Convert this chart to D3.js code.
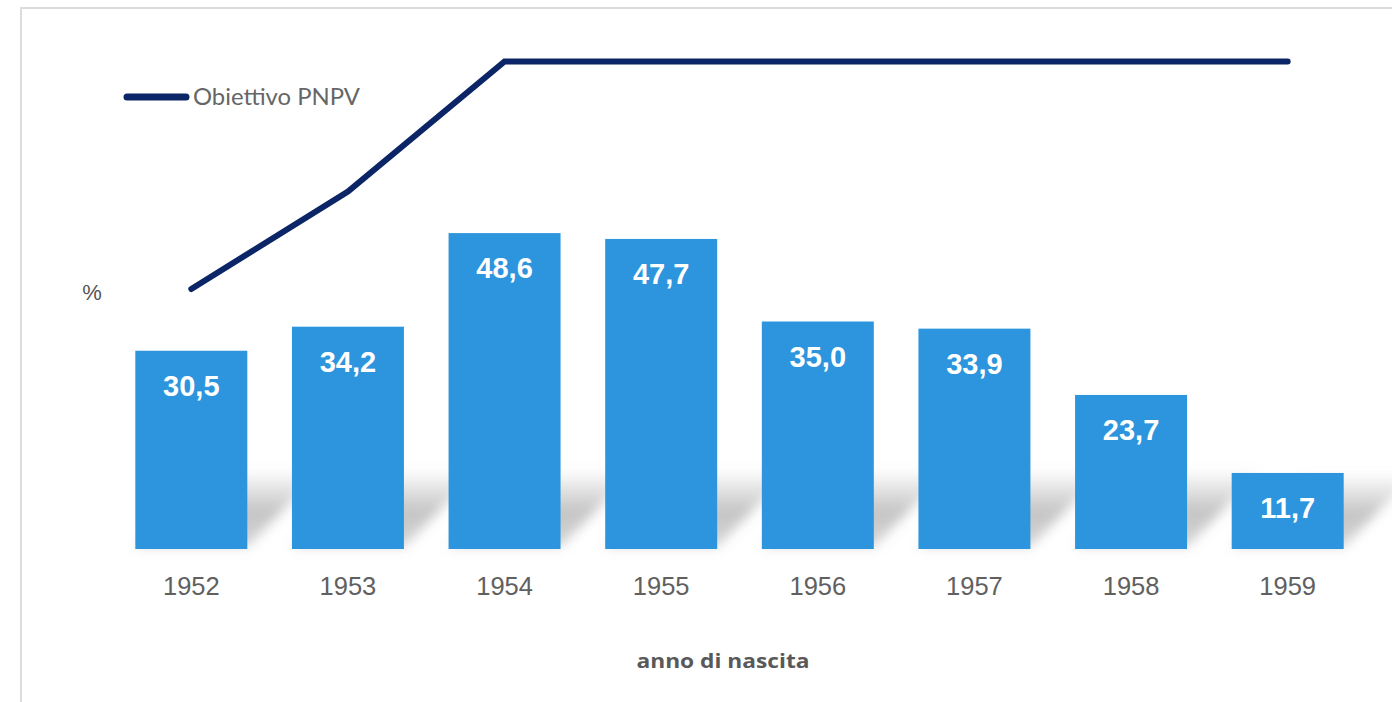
<!DOCTYPE html>
<html>
<head>
<meta charset="utf-8">
<script src="https://cdn.jsdelivr.net/npm/d3@7"></script>
<style>
html,body{margin:0;padding:0;background:#fff;}
svg{display:block;}
</style>
</head>
<body>
<svg id="chart" width="1392" height="702"></svg>
<script>
const years = ["1952","1953","1954","1955","1956","1957","1958","1959"];
const coverage = [30.5, 34.2, 48.6, 47.7, 35.0, 33.9, 23.7, 11.7];
const target = [40, 55, 75, 75, 75, 75, 75, 75];
const seriesLabel = "Obiettivo PNPV";
const xTitle = "anno di nascita";
const yTitle = "%";

const svg = d3.select("#chart");
const W = 1392, H = 702;
svg.append("rect").attr("width", W).attr("height", H).attr("fill", "#fff");

// frame (top + left border)
svg.append("path")
  .attr("d", `M21,${H+2} L21,8 L${W+2},8`)
  .attr("fill", "none").attr("stroke", "#dcdcdc").attr("stroke-width", 2);

const x = d3.scaleBand().domain(years).range([113, 1366]).paddingInner(0.285).paddingOuter(0.1425);
const y = d3.scaleLinear().domain([0, 80]).range([549, 29]);

const defs = svg.append("defs");
const grad = defs.append("linearGradient").attr("id", "shgrad")
  .attr("x1", 0).attr("y1", 1).attr("x2", 0).attr("y2", 0);
grad.append("stop").attr("offset", "0%").attr("stop-color", "#8a8a8a").attr("stop-opacity", 0.35);
grad.append("stop").attr("offset", "45%").attr("stop-color", "#8a8a8a").attr("stop-opacity", 0.5);
grad.append("stop").attr("offset", "100%").attr("stop-color", "#8a8a8a").attr("stop-opacity", 0);
const blur = defs.append("filter").attr("id", "blur").attr("x", "-30%").attr("y", "-30%").attr("width", "160%").attr("height", "160%");
blur.append("feGaussianBlur").attr("stdDeviation", 6);

// perspective shadows
const base = y(0);
svg.append("g").selectAll("path").data(years).join("path")
  .attr("d", (d, i) => {
    const x0 = x(d), x1 = x(d) + x.bandwidth();
    const h = Math.min(base - y(coverage[i]), 80);
    const dx = h * 0.95;
    return `M${x0},${base-2} L${x1},${base-2} L${x1+dx},${base-h} L${x0+dx},${base-h} Z`;
  })
  .attr("fill", "url(#shgrad)")
  .attr("filter", "url(#blur)");

// bars
svg.append("g").selectAll("rect").data(years).join("rect")
  .attr("x", d => x(d))
  .attr("y", (d, i) => y(coverage[i]))
  .attr("width", x.bandwidth())
  .attr("height", (d, i) => base - y(coverage[i]))
  .attr("fill", "#2d95dd");

// value labels
svg.append("g").selectAll("text").data(years).join("text")
  .attr("x", d => x(d) + x.bandwidth() / 2)
  .attr("y", (d, i) => y(coverage[i]) + 45)
  .attr("text-anchor", "middle")
  .attr("font-family", "Liberation Sans, Arial, sans-serif")
  .attr("font-weight", "bold")
  .attr("font-size", 29)
  .attr("fill", "#ffffff")
  .text((d, i) => coverage[i].toFixed(1).replace(".", ","));

// x axis labels
const xAxis = d3.axisBottom(x).tickSize(0).tickPadding(0);
const gx = svg.append("g").attr("transform", `translate(0,${base})`).call(xAxis);
gx.select(".domain").remove();
gx.selectAll("text")
  .attr("dy", 0).attr("y", 46)
  .attr("font-family", "Liberation Sans, Arial, sans-serif")
  .attr("font-size", 25.5)
  .attr("fill", "#606060");

// target line
const line = d3.line().x((d, i) => x(years[i]) + x.bandwidth() / 2).y(d => y(d));
svg.append("path").datum(target)
  .attr("d", line)
  .attr("fill", "none")
  .attr("stroke", "#0b2566")
  .attr("stroke-width", 6)
  .attr("stroke-linecap", "round")
  .attr("stroke-linejoin", "miter");

// legend
svg.append("line")
  .attr("x1", 127).attr("x2", 186).attr("y1", 97).attr("y2", 97)
  .attr("stroke", "#0b2566").attr("stroke-width", 7).attr("stroke-linecap", "round");
svg.append("text")
  .attr("x", 193).attr("y", 105)
  .attr("font-family", "Lato, Open Sans, sans-serif")
  .attr("font-size", 24)
  .attr("textLength", 167).attr("lengthAdjust", "spacingAndGlyphs")
  .attr("fill", "#666666")
  .text(seriesLabel);

// y title
svg.append("text")
  .attr("x", 92).attr("y", 300)
  .attr("text-anchor", "middle")
  .attr("font-family", "Liberation Sans, Arial, sans-serif")
  .attr("font-size", 22)
  .attr("fill", "#555555")
  .text(yTitle);

// x title
svg.append("text")
  .attr("x", 723).attr("y", 668)
  .attr("text-anchor", "middle")
  .attr("font-family", "Open Sans, sans-serif")
  .attr("font-weight", 700)
  .attr("font-size", 20)
  .attr("textLength", 173).attr("lengthAdjust", "spacingAndGlyphs")
  .attr("fill", "#595959")
  .text(xTitle);
</script>
</body>
</html>
